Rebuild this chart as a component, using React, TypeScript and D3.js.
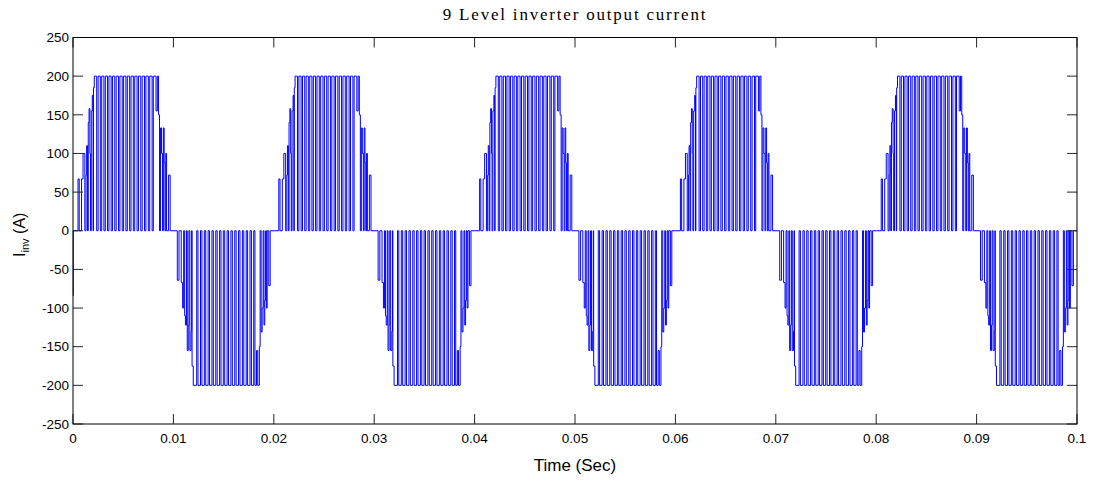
import React from 'react';
import * as d3 from 'd3';

const W = 1095;
const H = 481;
const margin = { top: 37.5, right: 18, bottom: 57, left: 73 };

const title = '9 Level inverter output current';
const xLabel = 'Time (Sec)';
const xTicks = [0, 0.01, 0.02, 0.03, 0.04, 0.05, 0.06, 0.07, 0.08, 0.09, 0.1];
const yTicks = [-250, -200, -150, -100, -50, 0, 50, 100, 150, 200, 250];

// one 50 Hz cycle: [time in ms, current in A], held until next entry
const periodMs = 20;
const cycleCount = 5;
const startSample: [number, number] = [0, -84];
const positiveHalf: [number, number][] = [
  [0.03, 0],
  [0.5, 67], [0.62, 0],
  [0.85, 67], [1.0, 100], [1.18, 0],
  [1.3, 72], [1.36, 110], [1.45, 0],
  [1.52, 140], [1.6, 158], [1.68, 100], [1.74, 0],
  [1.82, 155], [1.92, 175], [2.0, 0],
  [2.04, 185], [2.12, 200],
  [2.36, 0], [2.5, 200],
  [2.72, 0], [2.86, 200],
  [3.08, 0], [3.22, 200],
  [3.44, 0], [3.58, 200],
  [3.8, 0], [3.94, 200],
  [4.16, 0], [4.3, 200],
  [4.53, 0], [4.67, 200],
  [4.9, 0], [5.04, 200],
  [5.27, 0], [5.41, 200],
  [5.64, 0], [5.78, 200],
  [6.01, 0], [6.15, 200],
  [6.38, 0], [6.52, 200],
  [6.75, 0], [6.89, 200],
  [7.12, 0], [7.26, 200],
  [7.5, 0], [7.64, 200],
  [7.88, 0], [8.0, 200],
  [8.27, 155], [8.4, 200], [8.52, 150], [8.62, 0],
  [8.72, 133], [8.82, 100], [8.92, 0],
  [9.0, 133], [9.08, 88], [9.16, 0],
  [9.24, 100], [9.32, 0],
  [9.52, 72], [9.68, 0],
];
const negativeHalf: [number, number][] = [
  [10.39, -64], [10.56, 0],
  [10.78, -67], [10.92, -100], [11.02, 0],
  [11.12, -110], [11.2, -122], [11.3, 0],
  [11.38, -155], [11.48, -122], [11.55, 0],
  [11.64, -155], [11.76, -130], [11.82, 0],
  [11.86, -175], [11.98, -200],
  [12.32, 0], [12.45, -200],
  [12.7, 0], [12.84, -200],
  [13.08, 0], [13.22, -200],
  [13.46, 0], [13.6, -200],
  [13.84, 0], [13.98, -200],
  [14.22, 0], [14.36, -200],
  [14.6, 0], [14.74, -200],
  [14.97, 0], [15.11, -200],
  [15.35, 0], [15.49, -200],
  [15.73, 0], [15.87, -200],
  [16.11, 0], [16.25, -200],
  [16.49, 0], [16.63, -200],
  [16.87, 0], [17.01, -200],
  [17.25, 0], [17.39, -200],
  [17.63, 0], [17.77, -200],
  [18.0, 0], [18.12, -200],
  [18.28, -155], [18.4, -200], [18.56, -150], [18.64, 0],
  [18.74, -131], [18.84, -100], [18.94, 0],
  [19.02, -122], [19.1, -90], [19.18, 0],
  [19.26, -100], [19.34, 0],
  [19.5, -71], [19.64, 0],
];

function buildSeries(): [number, number][] {
  const pts: [number, number][] = [[startSample[0] / 1000, startSample[1]]];
  const cycle = [...positiveHalf, ...negativeHalf];
  for (let k = 0; k < cycleCount; k++) {
    cycle.forEach(([ms, a]) => pts.push([(k * periodMs + ms) / 1000, a]));
  }
  pts.push([(cycleCount * periodMs) / 1000, 0]);
  return pts;
}

const sans = '"Liberation Sans", Arial, sans-serif';
const serif = '"Liberation Serif", "Times New Roman", serif';

export default function App() {
  const x0 = margin.left;
  const x1 = W - margin.right;
  const y0 = margin.top;
  const y1 = H - margin.bottom;

  const x = d3.scaleLinear().domain([0, 0.1]).range([x0, x1]);
  const y = d3.scaleLinear().domain([-250, 250]).range([y1, y0]);

  const line = d3
    .line<[number, number]>()
    .x((d) => x(d[0]))
    .y((d) => y(d[1]))
    .curve(d3.curveStepAfter);

  const series = buildSeries();
  const tickLen = 10;

  return (
    <svg
      width={W}
      height={H}
      style={{ position: 'absolute', left: 0, top: 0, background: '#fff' }}
    >
      <rect x={0} y={0} width={W} height={H} fill="#fff" />
      <path d={line(series) || ''} fill="none" stroke="#0000ff" strokeWidth={1} />

      {xTicks.map((t) => (
        <g key={'x' + t}>
          <line x1={x(t)} x2={x(t)} y1={y1} y2={y1 - tickLen} stroke="#262626" />
          <line x1={x(t)} x2={x(t)} y1={y0} y2={y0 + tickLen} stroke="#262626" />
          <text
            x={x(t)}
            y={y1 + 19}
            textAnchor="middle"
            fontFamily={sans}
            fontSize={13.5}
            fill="#000"
          >
            {String(t)}
          </text>
        </g>
      ))}
      {yTicks.map((t) => (
        <g key={'y' + t}>
          <line x1={x0} x2={x0 + tickLen} y1={y(t)} y2={y(t)} stroke="#262626" />
          <line x1={x1} x2={x1 - tickLen} y1={y(t)} y2={y(t)} stroke="#262626" />
          <text
            x={x0 - 4}
            y={y(t)}
            dy="0.35em"
            textAnchor="end"
            fontFamily={sans}
            fontSize={13.5}
            fill="#000"
          >
            {String(t)}
          </text>
        </g>
      ))}

      <rect x={x0} y={y0} width={x1 - x0} height={y1 - y0} fill="none" stroke="#000" strokeWidth={1} />

      <text
        x={(x0 + x1) / 2}
        y={20}
        textAnchor="middle"
        fontFamily={serif}
        fontSize={17}
        letterSpacing={1.8}
        fill="#000"
      >
        {title}
      </text>
      <text x={(x0 + x1) / 2} y={471} textAnchor="middle" fontFamily={sans} fontSize={17} fill="#000">
        {xLabel}
      </text>
      <text
        transform={`translate(25, ${(y0 + y1) / 2 + 4}) rotate(-90)`}
        textAnchor="middle"
        fontFamily={sans}
        fontSize={16}
        fill="#000"
      >
        I<tspan fontSize={11} dy={4}>inv</tspan>
        <tspan dy={-4}> (A)</tspan>
      </text>
    </svg>
  );
}
